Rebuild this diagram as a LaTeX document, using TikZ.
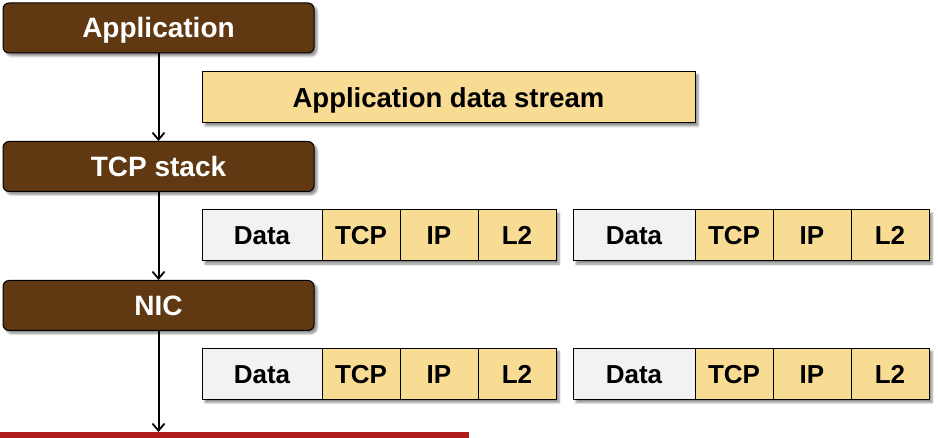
\documentclass[tikz,border=0pt]{standalone}
\usepackage{fontspec}
\setmainfont{Liberation Sans}
\usetikzlibrary{arrows.meta,shadows.blur}
\definecolor{brownbox}{HTML}{603913}
\definecolor{yellowbox}{HTML}{F8DC94}
\definecolor{graybox}{HTML}{F2F2F2}
\definecolor{redline}{HTML}{B01A1A}
\tikzset{
  sh/.style={blur shadow={shadow xshift=3pt,shadow yshift=-3pt,shadow blur steps=6,shadow opacity=45}},
  layer/.style={sh,draw=black,line width=1pt,fill=brownbox,rounded corners=6pt,
    minimum width=311pt,minimum height=50pt,inner sep=0pt,text=white,
    text height=20pt,text depth=0pt,
    font=\fontsize{28}{32}\selectfont\bfseries},
  cell/.style={draw=black,line width=1pt,minimum height=51pt,inner sep=0pt,outer sep=0pt,
    text height=18.6pt,text depth=0pt,
    font=\fontsize{26}{30}\selectfont\bfseries},
  datacell/.style={cell,fill=graybox,minimum width=#1},
  hdrcell/.style={cell,fill=yellowbox,minimum width=78pt},
  flow/.style={line width=2pt,-{Straight Barb[length=7pt,width=12pt,line width=1.8pt]}}
}
\begin{document}
\begin{tikzpicture}[x=1pt,y=-1pt]
\useasboundingbox (0,0) rectangle (938,438);
% layers
\node[layer] (app) at (158.5,28) {Application};
\node[layer] (tcp) at (158.5,166.5) {TCP stack};
\node[layer] (nic) at (158.5,305.5) {NIC};
% wire
\fill[redline] (0,432) rectangle (469,438);
\coordinate (wire) at (158.5,432);
% arrows
\draw[flow] (app) -- (tcp);
\draw[flow] (tcp) -- (nic);
\draw[flow] (nic) -- (wire);
% stream
\node[sh,draw=black,line width=1pt,fill=yellowbox,minimum width=493pt,minimum height=51pt,inner sep=0pt,
  text height=19.7pt,text depth=0pt,
  font=\fontsize{27.5}{32}\selectfont\bfseries] (stream) at (448.5,97.5) {Application data stream};
% packet rows
\foreach \r/\y in {1/235.5,2/374} {
  \foreach \p/\x/\w in {a/202/120,b/573/122} {
    \path[sh,fill=white] (\x,\y-25.5) rectangle (\x+\w+234,\y+25.5);
    \node[datacell=\w pt,anchor=west] (d\r\p) at (\x,\y) {Data};
    \node[hdrcell,anchor=west] (t\r\p) at (d\r\p.east) {TCP};
    \node[hdrcell,anchor=west] (i\r\p) at (t\r\p.east) {IP};
    \node[hdrcell,anchor=west] (l\r\p) at (i\r\p.east) {L2};
  }
}
\end{tikzpicture}
\end{document}
